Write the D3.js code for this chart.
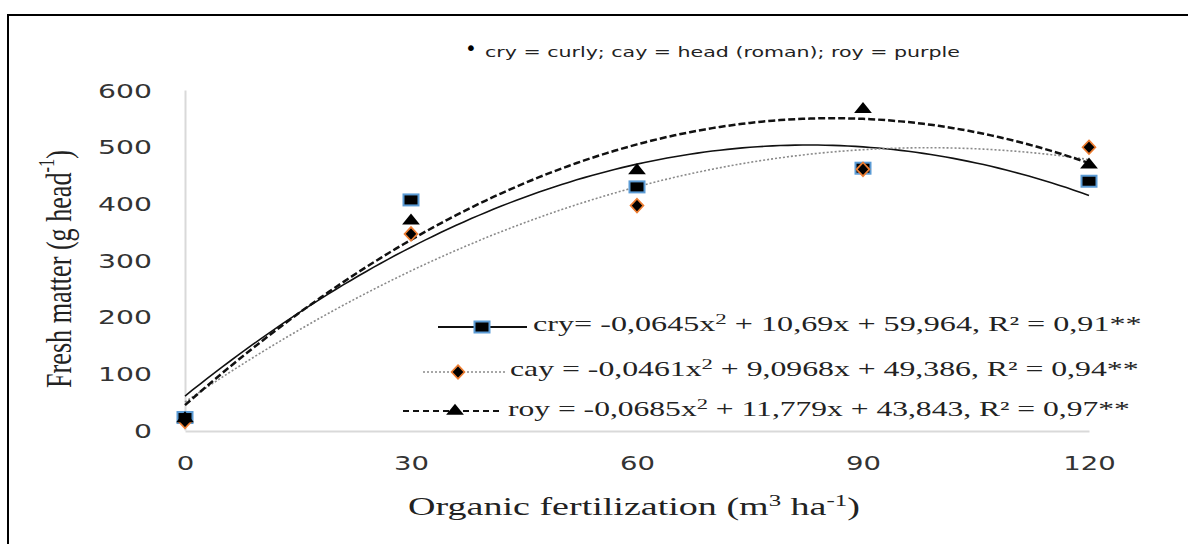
<!DOCTYPE html>
<html>
<head>
<meta charset="utf-8">
<script src="https://cdn.jsdelivr.net/npm/d3@7"></script>
<style>
  body { margin: 0; background: #fff; }
  svg { display: block; }
</style>
</head>
<body>
<svg id="chart" width="1188" height="544"></svg>
<script>

// Doses of organic fertilization (x axis)
var doses = [0, 30, 60, 90, 120];

// Observed fresh matter per lettuce type (g head-1)
var cryValues = [22, 406, 429, 462, 439];
var cayValues = [15, 346, 396, 460, 499];
var royValues = [20, 369, 458, 566, 468];

// Quadratic trend coefficients as printed in the legend [a, b, c]
var cryCoef = [-0.0645, 10.69, 59.964];
var cayCoef = [-0.0461, 9.0968, 49.386];
var royCoef = [-0.0685, 11.779, 43.843];

// Axis tick labels
var xTicks = [0, 30, 60, 90, 120];
var yTicks = [0, 100, 200, 300, 400, 500, 600];

// Legend texts: [before superscript, superscript, after]
var cryLabel = ["cry= -0,0645x", "2", " + 10,69x + 59,964, R\u00b2 = 0,91**"];
var cayLabel = ["cay = -0,0461x", "2", " + 9,0968x + 49,386, R\u00b2 = 0,94**"];
var royLabel = ["roy = -0,0685x", "2", " + 11,779x + 43,843, R\u00b2 = 0,97**"];

var noteText = "cry = curly; cay = head (roman); roy = purple";

var svg = d3.select("#chart");

// Scales
var x = d3.scaleLinear().domain([0, 120]).range([185, 1089]);
var y = d3.scaleLinear().domain([0, 600]).range([430, 90]);

var sansFont = "'DejaVu Sans', Verdana, sans-serif";
var serifFont = "'Liberation Serif', 'Times New Roman', serif";

// Stretch a text horizontally so it covers a given width
function fitText(sel, px, py, width) {
    var w = sel.node().getBBox().width;
    sel.attr("x", 0).attr("y", 0)
        .attr("transform", `translate(${px},${py}) scale(${width / w},1)`);
}

// Outer frame (left and top only visible)
svg.append("path")
    .attr("d", "M8,544 V15 H1188")
    .attr("fill", "none")
    .attr("stroke", "#000")
    .attr("stroke-width", 2);

// Y axis
var yAxis = svg.append("g")
    .attr("transform", "translate(185,0)")
    .call(d3.axisLeft(y).tickValues(yTicks).tickSize(0).tickPadding(33).tickSizeOuter(0));
yAxis.select(".domain").attr("stroke", "#d9d9d9").attr("stroke-width", 2);
yAxis.selectAll("text")
    .attr("font-family", sansFont)
    .attr("font-size", 20)
    .attr("fill", "#333")
    .attr("dy", "0.35em")
    .each(function () {
        var t = d3.select(this);
        var w = this.getBBox().width;
        var k = 18 / (w / t.text().length);
        t.attr("x", 0).attr("transform", `translate(-33,0) scale(${k},1)`);
    });

// X axis
var xAxis = svg.append("g")
    .attr("transform", "translate(0,431)")
    .call(d3.axisBottom(x).tickValues(xTicks).tickSize(0).tickPadding(0).tickSizeOuter(0));
xAxis.select(".domain").attr("stroke", "#d9d9d9").attr("stroke-width", 2);
xAxis.selectAll("text")
    .attr("font-family", sansFont)
    .attr("font-size", 20)
    .attr("fill", "#333")
    .attr("dy", "0.35em")
    .each(function () {
        var t = d3.select(this);
        var w = this.getBBox().width;
        var k = 17.5 / (w / t.text().length);
        t.attr("y", 0).attr("transform", `translate(0,32) scale(${k},1)`);
    });

// Axis titles
var xTitle = svg.append("text")
    .attr("font-family", serifFont)
    .attr("font-size", 26)
    .attr("text-anchor", "middle")
    .attr("fill", "#222");
xTitle.append("tspan").text("Organic fertilization (m");
xTitle.append("tspan").text("3").attr("font-size", 17).attr("dy", -9);
xTitle.append("tspan").text(" ha").attr("dy", 9);
xTitle.append("tspan").text("-1").attr("font-size", 17).attr("dy", -9);
xTitle.append("tspan").text(")").attr("dy", 9);
fitText(xTitle, 634, 515, 452);

var yTitle = svg.append("text")
    .attr("font-family", serifFont)
    .attr("font-size", 27)
    .attr("text-anchor", "middle")
    .attr("dominant-baseline", "central")
    .attr("fill", "#222");
yTitle.append("tspan").text("Fresh matter (g head");
yTitle.append("tspan").text("-1").attr("font-size", 17).attr("dy", -9);
yTitle.append("tspan").text(")").attr("dy", 9);
var yTitleW = yTitle.node().getBBox().width;
yTitle.attr("transform", `translate(58,269) scale(1.35,1) rotate(-90) scale(${238 / yTitleW},1)`);

// Trend curves
function trend(coef) {
    return d3.range(0, 120.5, 1).map(d => [d, coef[0] * d * d + coef[1] * d + coef[2]]);
}
var line = d3.line().x(d => x(d[0])).y(d => y(d[1])).curve(d3.curveLinear);

svg.append("path")
    .attr("d", line(trend(cryCoef)))
    .attr("fill", "none")
    .attr("stroke", "#111")
    .attr("stroke-width", 1.6);

svg.append("path")
    .attr("d", line(trend(cayCoef)))
    .attr("fill", "none")
    .attr("stroke", "#8a8a8a")
    .attr("stroke-width", 1.6)
    .attr("stroke-dasharray", "2,2");

svg.append("path")
    .attr("d", line(trend(royCoef)))
    .attr("fill", "none")
    .attr("stroke", "#111")
    .attr("stroke-width", 2.5)
    .attr("stroke-dasharray", "7,3");

// Marker drawers (the picture is wider than tall, so markers are stretched)
function drawSquare(g, cx, cy) {
    g.append("rect")
        .attr("x", cx - 7.5).attr("y", cy - 5.5)
        .attr("width", 15).attr("height", 11)
        .attr("fill", "#000")
        .attr("stroke", "#5b9bd5")
        .attr("stroke-width", 2);
}
function drawDiamond(g, cx, cy) {
    g.append("path")
        .attr("d", d3.symbol().type(d3.symbolDiamond).size(60)())
        .attr("transform", `translate(${cx},${cy}) scale(1.55,0.95)`)
        .attr("fill", "#000")
        .attr("stroke", "#ed7d31")
        .attr("stroke-width", 1.3);
}
function drawTriangle(g, cx, cy) {
    g.append("path")
        .attr("d", d3.symbol().type(d3.symbolTriangle).size(70)())
        .attr("transform", `translate(${cx},${cy}) scale(1.4,1)`)
        .attr("fill", "#000");
}

var marks = svg.append("g");
doses.forEach((d, i) => drawSquare(marks, x(d), y(cryValues[i])));
doses.forEach((d, i) => drawDiamond(marks, x(d), y(cayValues[i])));
doses.forEach((d, i) => drawTriangle(marks, x(d), y(royValues[i])));

// Legend
var legend = svg.append("g");

legend.append("line").attr("x1", 438).attr("x2", 527).attr("y1", 327).attr("y2", 327)
    .attr("stroke", "#111").attr("stroke-width", 1.8);
drawSquare(legend, 482, 327);

legend.append("line").attr("x1", 423).attr("x2", 505).attr("y1", 372).attr("y2", 372)
    .attr("stroke", "#8a8a8a").attr("stroke-width", 1.6).attr("stroke-dasharray", "2,2");
drawDiamond(legend, 458, 372);

legend.append("line").attr("x1", 403).attr("x2", 500).attr("y1", 411).attr("y2", 411)
    .attr("stroke", "#111").attr("stroke-width", 2.2).attr("stroke-dasharray", "6,4");
drawTriangle(legend, 455, 411);

function legendText(parts, px, py, width) {
    var t = legend.append("text")
        .attr("font-family", serifFont)
        .attr("font-size", 21)
        .attr("fill", "#222");
    t.append("tspan").text(parts[0]);
    t.append("tspan").text(parts[1]).attr("font-size", 15).attr("dy", -7);
    t.append("tspan").text(parts[2]).attr("dy", 7);
    fitText(t, px, py, width);
}
legendText(cryLabel, 533, 331, 609);
legendText(cayLabel, 510, 376, 629);
legendText(royLabel, 508, 416, 622);

// Note at the top
svg.append("text")
    .attr("x", 471).attr("y", 55)
    .attr("font-family", sansFont)
    .attr("font-size", 20)
    .attr("text-anchor", "middle")
    .attr("fill", "#000")
    .text("\u2022");
var note = svg.append("text")
    .attr("font-family", sansFont)
    .attr("font-size", 14)
    .attr("fill", "#222")
    .attr("dominant-baseline", "central")
    .text(noteText);
fitText(note, 485, 52, 475);

</script>
</body>
</html>
